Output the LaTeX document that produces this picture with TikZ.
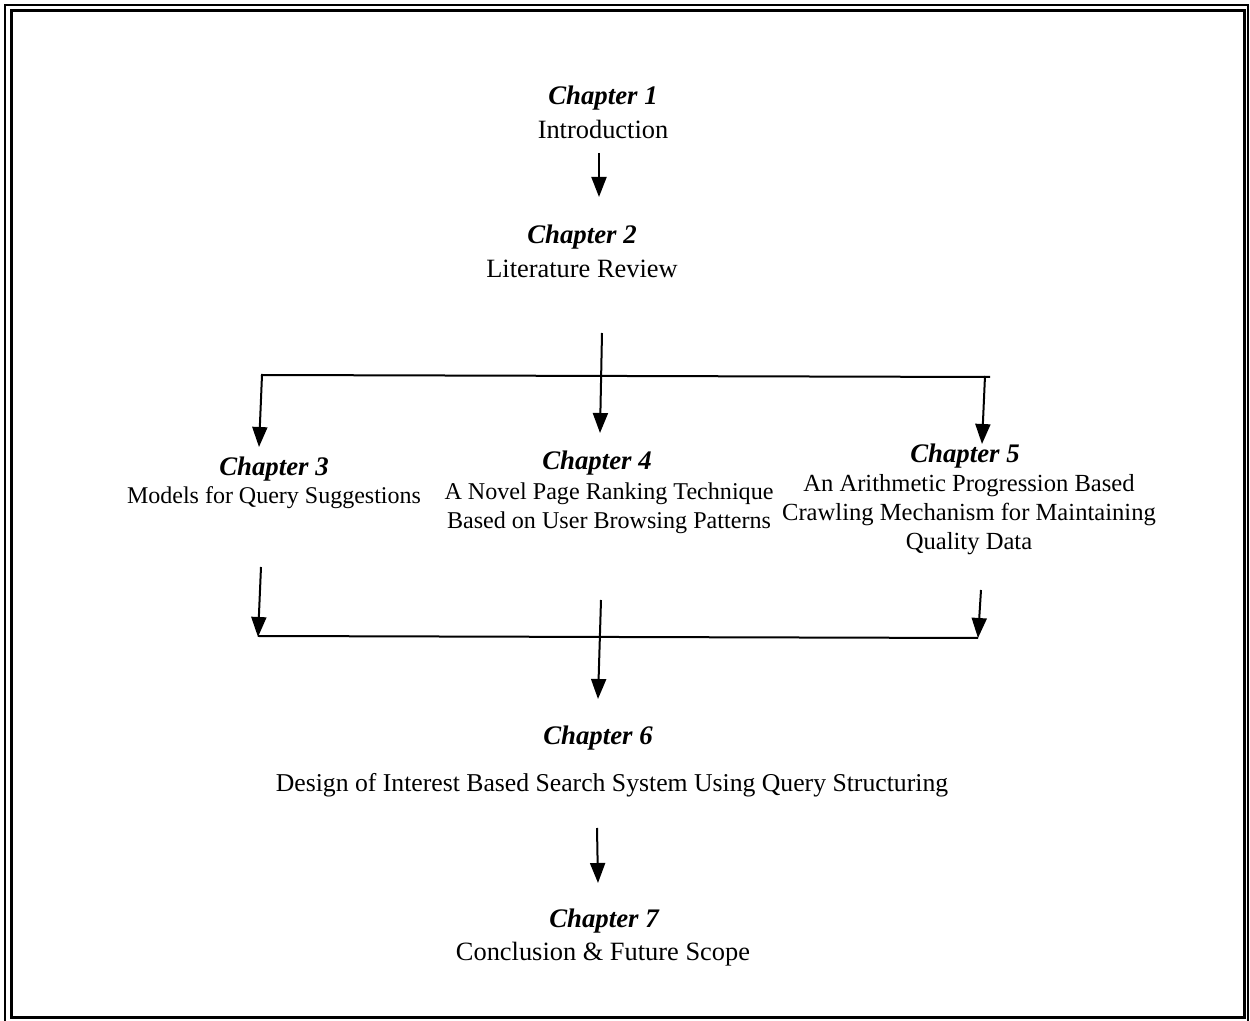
\documentclass[tikz,border=0pt]{standalone}
\usepackage{fontspec}
\setmainfont{Liberation Serif}
\usetikzlibrary{arrows.meta}
\begin{document}
\begin{tikzpicture}[x=0.5pt,y=-0.5pt,
  txt/.style={inner sep=0pt,align=center,font=\fontsize{#1}{14.5}\selectfont},
  txt/.default=13.2,
  head/.style={inner sep=0pt,align=center,font=\fontsize{13.4}{14.5}\selectfont\bfseries\itshape},
  link/.style={line width=1pt},
  flow/.style={link,-{Triangle[width=7.5pt,length=10pt]}}]
\useasboundingbox (0,0) rectangle (1250,1021);
% page frame: thin outer rule, thick inner rule
\draw[line width=0.8pt] (5,5) rectangle (1248,1030);
\draw[line width=1.5pt] (11.5,10.5) rectangle (1244,1018);

% chapters
\node[head] (h1) at (603,98) {Chapter 1};
\node[txt]  (b1) at (603,129) {Introduction};
\node[head] (h2) at (582,237) {Chapter 2};
\node[txt]  (b2) at (582,269) {Literature Review};
\node[head] (h3) at (274,469) {Chapter 3};
\node[txt=12.0] (b3) at (274,498) {Models for Query Suggestions};
\node[head] (h4) at (597,463) {Chapter 4};
\node[txt=12.05] (b4) at (609,508.5) {A Novel Page Ranking Technique\\Based on User Browsing Patterns};
\node[head] (h5) at (965,456) {Chapter 5};
\node[txt=12.3] (b5) at (969,515) {An Arithmetic Progression Based\\Crawling Mechanism for Maintaining\\Quality Data};
\node[head] (h6) at (598,738) {Chapter 6};
\node[txt=12.85] (b6) at (612,785) {Design of Interest Based Search System Using Query Structuring};
\node[head] (h7) at (604,921) {Chapter 7};
\node[txt]  (b7) at (603,954) {Conclusion \& Future Scope};

% connector end points
\coordinate (a1s) at (599,153);  \coordinate (a1e) at (599,197);
\coordinate (a2s) at (602,333);  \coordinate (a2e) at (600,433);
\coordinate (splitL) at (261,375); \coordinate (splitR) at (990,377);
\coordinate (d3s) at (262,375);  \coordinate (d3e) at (259,447);
\coordinate (d5s) at (985,376);  \coordinate (d5e) at (982,444);
\coordinate (u3s) at (261,567);  \coordinate (u3e) at (258,637);
\coordinate (u5s) at (981,590);  \coordinate (u5e) at (978,638);
\coordinate (joinL) at (258,636); \coordinate (joinR) at (978,638);
\coordinate (u4s) at (601,600);  \coordinate (u4e) at (598,699);
\coordinate (a6s) at (597,828);  \coordinate (a6e) at (598,883);

% connectors
\draw[flow] (a1s) -- (a1e);
\draw[flow] (a2s) -- (a2e);
\draw[link] (splitL) -- (splitR);
\draw[flow] (d3s) -- (d3e);
\draw[flow] (d5s) -- (d5e);
\draw[flow] (u3s) -- (u3e);
\draw[flow] (u5s) -- (u5e);
\draw[link] (joinL) -- (joinR);
\draw[flow] (u4s) -- (u4e);
\draw[flow] (a6s) -- (a6e);
\end{tikzpicture}
\end{document}
